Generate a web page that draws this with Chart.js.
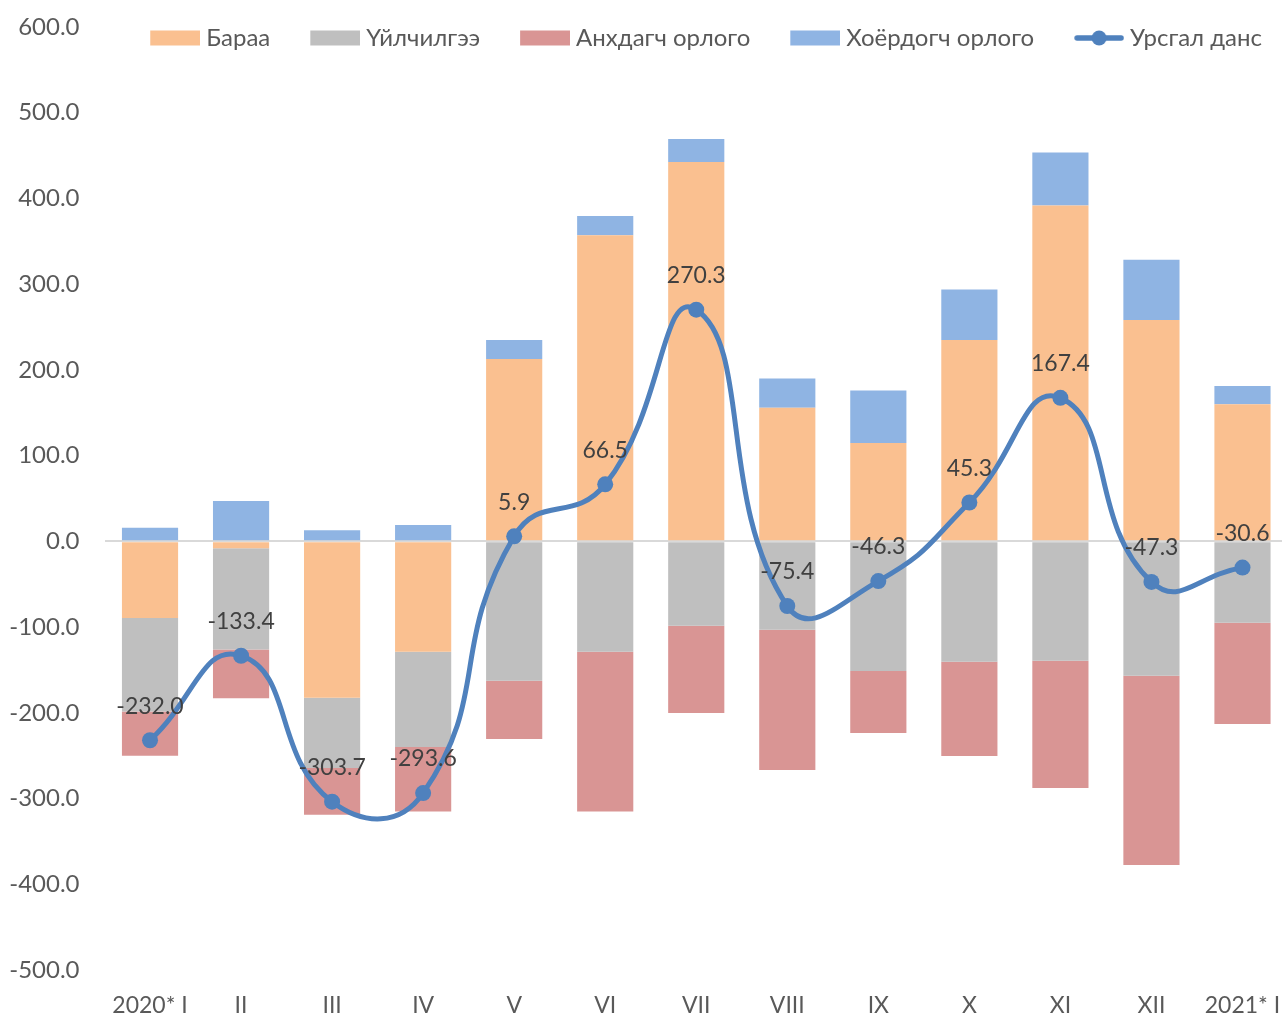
<!DOCTYPE html>
<html>
<head>
<meta charset="utf-8">
<script src="https://cdn.jsdelivr.net/npm/chart.js@4.4.1/dist/chart.umd.min.js"></script>
<style>
    html, body { margin: 0; padding: 0; background: #fff; overflow: hidden; }
    #bopChart { display: block; }
</style>
</head>
<body>
<canvas id="bopChart" width="1288" height="1016"></canvas>
<script>
/* ---- data ---- */
const CATEGORIES = ['2020* I', 'II', 'III', 'IV', 'V', 'VI', 'VII', 'VIII', 'IX', 'X', 'XI', 'XII', '2021* I'];
const GOODS      = [-89.5, -8.0, -182.4, -128.7, 212.6, 357.0, 442.4, 155.9, 114.8, 234.8, 391.9, 258.1, 159.8];
const SERVICES   = [-109.0, -118.0, -82.0, -111.3, -162.6, -128.8, -98.4, -103.1, -151.3, -140.4, -139.3, -156.8, -95.0];
const PRIMARY    = [-51.5, -57.0, -54.5, -75.0, -68.0, -186.2, -101.9, -163.7, -72.3, -110.0, -148.5, -220.8, -118.1];
const SECONDARY  = [16.0, 47.0, 13.0, 19.0, 22.2, 22.4, 26.9, 34.2, 61.3, 59.1, 61.8, 70.4, 21.4];
const CURRENT    = [-232.0, -133.4, -303.7, -293.6, 5.9, 66.5, 270.3, -75.4, -46.3, 45.3, 167.4, -47.3, -30.6];

const Y_MIN = -500, Y_MAX = 600, Y_STEP = 100;

const FONT = "Lato, 'Open Sans', sans-serif";
const TEXT_GRAY = '#595959';
const LINE_BLUE = '#4f81bd';

/* ---- legend: swatches are small canvases used as point styles ---- */
const LEG_FONT = 24, LEG_PAD = 26, LEG_GAP = 40, SWATCH_W = 50, SWATCH_TEXT_GAP = 6;
const LEG_CENTER_Y = 38;
const LEG_SHIFT = LEG_GAP - LEG_PAD;
const LEG_BOX_W = LEG_SHIFT + SWATCH_W + SWATCH_TEXT_GAP - LEG_FONT / 2;
const LEG_IMG_W = Math.round(2 * (LEG_SHIFT + SWATCH_W - LEG_BOX_W / 2));
const LEG_IMG_H = 20;

function swatch(color, isLine) {
    const c = document.createElement('canvas');
    c.width = LEG_IMG_W;
    c.height = LEG_IMG_H;
    const g = c.getContext('2d');
    const x0 = LEG_IMG_W - SWATCH_W;
    if (isLine) {
        g.strokeStyle = color;
        g.lineWidth = 5.5;
        g.lineCap = 'round';
        g.beginPath();
        g.moveTo(x0 + 3, LEG_IMG_H / 2);
        g.lineTo(LEG_IMG_W - 3, LEG_IMG_H / 2);
        g.stroke();
        g.fillStyle = color;
        g.beginPath();
        g.arc(x0 + SWATCH_W / 2, LEG_IMG_H / 2, 7.5, 0, Math.PI * 2);
        g.fill();
    } else {
        g.fillStyle = color;
        g.fillRect(x0, (LEG_IMG_H - 15) / 2, SWATCH_W, 15);
    }
    return c;
}

// the legend sits inside the plot area (like the original), so it takes
// no layout room; move its box up there once the layout is done
const floatLegend = {
    id: 'floatLegend',
    afterLayout(chart) {
        const lg = chart.legend;
        if (!lg) return;
        lg.top = LEG_CENTER_Y - LEG_FONT / 2 - LEG_PAD;
        lg.bottom = lg.top + 2 * LEG_PAD + LEG_FONT + 10;
    }
};

/* ---- value labels above the line points ---- */
const lineLabels = {
    id: 'lineLabels',
    afterDatasetsDraw(chart) {
        const ctx = chart.ctx;
        chart.data.datasets.forEach((ds, i) => {
            if (ds.type !== 'line') return;
            const meta = chart.getDatasetMeta(i);
            ctx.save();
            ctx.font = '23px ' + FONT;
            ctx.fillStyle = '#404040';
            ctx.textAlign = 'center';
            ctx.textBaseline = 'middle';
            meta.data.forEach((pt, j) => {
                ctx.fillText(ds.data[j].toFixed(1), pt.x, pt.y - 34);
            });
            ctx.restore();
        });
    }
};

const barSet = (label, data, color) => ({
    label: label,
    data: data,
    backgroundColor: color,
    borderWidth: 0,
    stack: 'bop',
    order: 1,
    barPercentage: 0.617,
    categoryPercentage: 1.0,
    legendColor: color,
});

new Chart(document.getElementById('bopChart'), {
    type: 'bar',
    data: {
        labels: CATEGORIES,
        datasets: [
            barSet('Бараа', GOODS, '#fac090'),
            barSet('Үйлчилгээ', SERVICES, '#bfbfbf'),
            barSet('Анхдагч орлого', PRIMARY, '#d99594'),
            barSet('Хоёрдогч орлого', SECONDARY, '#8fb4e3'),
            {
                type: 'line',
                label: 'Урсгал данс',
                data: CURRENT,
                stack: 'ca',
                order: 0,
                borderColor: LINE_BLUE,
                backgroundColor: LINE_BLUE,
                borderWidth: 5,
                tension: 0.5,
                pointRadius: 8,
                pointBackgroundColor: LINE_BLUE,
                pointBorderWidth: 0,
                legendColor: LINE_BLUE,
            },
        ]
    },
    options: {
        responsive: false,
        animation: false,
        layout: {
            autoPadding: false,
            padding: { top: 26, left: 0, right: 0, bottom: 0 },
        },
        plugins: {
            tooltip: { enabled: false },
            legend: {
                position: 'top',
                align: 'end',
                maxHeight: 1,
                labels: {
                    usePointStyle: true,
                    pointStyleWidth: LEG_BOX_W,
                    boxHeight: 15,
                    padding: LEG_PAD,
                    color: TEXT_GRAY,
                    font: { family: FONT, size: LEG_FONT },
                    generateLabels(chart) {
                        return chart.data.datasets.map((ds, i) => ({
                            text: ds.label,
                            datasetIndex: i,
                            pointStyle: swatch(ds.legendColor, ds.type === 'line'),
                            fillStyle: ds.legendColor,
                            strokeStyle: ds.legendColor,
                            fontColor: TEXT_GRAY,
                            lineWidth: 0,
                            hidden: false,
                        }));
                    }
                }
            }
        },
        scales: {
            x: {
                stacked: true,
                grid: { display: false, drawTicks: false },
                border: { display: false },
                ticks: {
                    color: TEXT_GRAY,
                    font: { family: FONT, size: 23 },
                    padding: 22,
                    maxRotation: 0,
                    autoSkip: false,
                },
                afterFit(scale) {
                    scale.height = 46;
                    scale.paddingLeft = 0;
                    scale.paddingRight = 0;
                },
            },
            y: {
                stacked: true,
                min: Y_MIN,
                max: Y_MAX,
                border: { display: false },
                grid: {
                    drawTicks: false,
                    lineWidth: 2,
                    color: ctx => (ctx.tick && ctx.tick.value === 0) ? '#d9d9d9' : 'rgba(0,0,0,0)',
                },
                ticks: {
                    stepSize: Y_STEP,
                    color: TEXT_GRAY,
                    font: { family: FONT, size: 24 },
                    padding: 25,
                    callback: v => v.toFixed(1),
                },
                afterFit(scale) {
                    scale.width = 104.5;
                    scale.paddingTop = 0;
                    scale.paddingBottom = 0;
                },
            }
        }
    },
    plugins: [floatLegend, lineLabels]
});
</script>
</body>
</html>
